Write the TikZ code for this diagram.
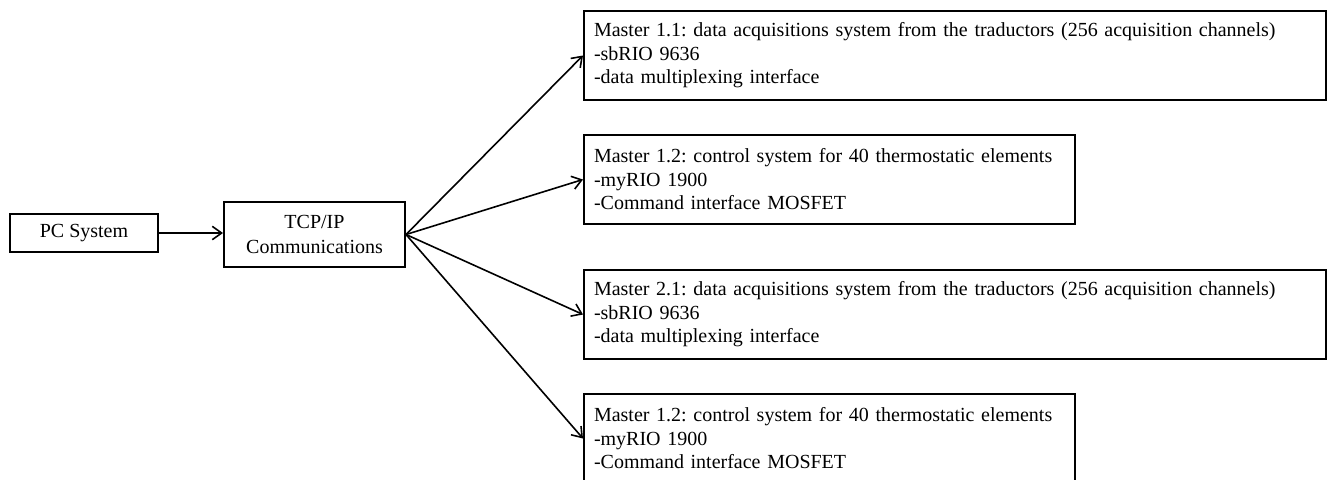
\documentclass[tikz,border=0pt]{standalone}
\usepackage{fontspec}
\setmainfont{Liberation Serif}
\usetikzlibrary{arrows.meta}
\begin{document}
\begin{tikzpicture}[x=0.75pt,y=-0.75pt,
  box/.style={draw, line width=1.5pt, font=\fontsize{15}{17.6}\selectfont\frenchspacing},
  smallbox/.style={box, align=center, inner sep=0pt, minimum width=#1},
  masterbox/.style={box, align=left, inner xsep=7.5pt, inner ysep=0pt, text width=#1, minimum height=66.75pt},
  arr/.style={line width=1.2pt, -{Straight Barb[length=7pt,width=10pt,line width=1.2pt]}}]
\useasboundingbox (0,0) rectangle (1331,479);
\clip (0,0) rectangle (1331,479);
\node[smallbox=111pt, minimum height=28.5pt] (pc) at (84,233) {PC System};
\node[smallbox=135.75pt, minimum height=48.75pt, font=\fontsize{15}{19}\selectfont] (tcp) at (314.5,234.5) {TCP/IP\\Communications};
\node[masterbox=541.5pt] (m11) at (955,55.5) {Master 1.1: data acquisitions system from the traductors (256 acquisition channels)\\-sbRIO 9636\\-data multiplexing interface};
\node[masterbox=353.25pt] (m12) at (829.5,179.5) {Master 1.2: control system for 40 thermostatic elements\\-myRIO 1900\\-Command interface MOSFET};
\node[masterbox=541.5pt] (m21) at (955,314.5) {Master 2.1: data acquisitions system from the traductors (256 acquisition channels)\\-sbRIO 9636\\-data multiplexing interface};
\node[masterbox=353.25pt] (m12b) at (829.5,438.5) {Master 1.2: control system for 40 thermostatic elements\\-myRIO 1900\\-Command interface MOSFET};
\draw[arr] (pc.east) -- (pc.east -| tcp.west);
\draw[arr] (tcp.east) -- (m11.west);
\draw[arr] (tcp.east) -- (m12.west);
\draw[arr] (tcp.east) -- (m21.west);
\draw[arr] (tcp.east) -- (m12b.west);
\end{tikzpicture}
\end{document}
